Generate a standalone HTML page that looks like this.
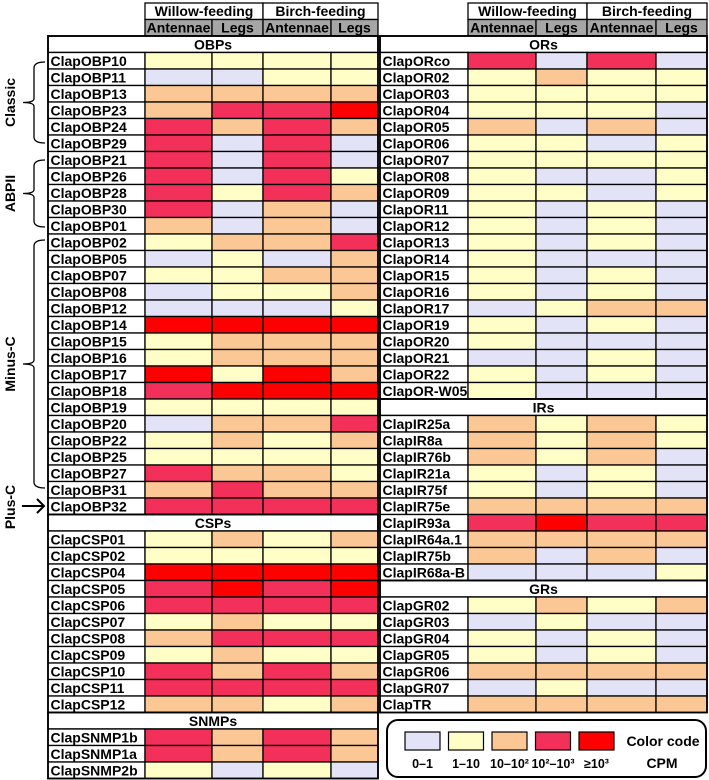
<!DOCTYPE html>
<html><head><meta charset="utf-8">
<style>
html,body{margin:0;padding:0;background:#fff;}
svg{display:block;font-family:"Liberation Sans",Arial,sans-serif;font-weight:bold;}
</style></head>
<body>
<svg id="chart" width="709" height="780" viewBox="0 0 709 780"></svg>
<script>
// level codes: 0 = 0-1, 1 = 1-10, 2 = 10-10^2, 3 = 10^2-10^3, 4 = >=10^3
const groups = ["Willow-feeding","Birch-feeding"];
const tissues = ["Antennae","Legs","Antennae","Legs"];
const levelColors = ["#e3e3f7","#fffec6","#fbc794","#f2305a","#fe0000"];
const levelLabels = ["0\u20131","1\u201310","10\u201310\u00b2","10\u00b2\u201310\u00b3","\u226510\u00b3"];

const obpNames = ["ClapOBP10","ClapOBP11","ClapOBP13","ClapOBP23","ClapOBP24","ClapOBP29","ClapOBP21","ClapOBP26","ClapOBP28","ClapOBP30","ClapOBP01","ClapOBP02","ClapOBP05","ClapOBP07","ClapOBP08","ClapOBP12","ClapOBP14","ClapOBP15","ClapOBP16","ClapOBP17","ClapOBP18","ClapOBP19","ClapOBP20","ClapOBP22","ClapOBP25","ClapOBP27","ClapOBP31","ClapOBP32"];
const obpLevels = [[1,1,1,1],[0,0,1,1],[2,2,2,2],[2,3,3,4],[3,2,3,2],[3,0,3,0],[3,0,3,0],[3,0,3,1],[3,1,3,2],[3,0,2,0],[2,0,2,0],[1,2,2,3],[0,1,0,2],[1,1,2,2],[0,1,1,2],[0,0,0,1],[4,4,4,4],[1,2,2,2],[1,2,2,2],[4,1,4,2],[3,4,4,4],[1,1,1,1],[0,2,2,3],[1,2,1,2],[1,1,1,1],[3,2,2,1],[2,3,2,2],[3,3,3,3]];
const cspNames = ["ClapCSP01","ClapCSP02","ClapCSP04","ClapCSP05","ClapCSP06","ClapCSP07","ClapCSP08","ClapCSP09","ClapCSP10","ClapCSP11","ClapCSP12"];
const cspLevels = [[1,2,1,2],[1,1,1,1],[4,4,4,4],[3,4,3,4],[3,3,3,3],[1,2,1,1],[2,3,3,3],[1,2,1,1],[3,2,3,2],[3,3,3,3],[2,2,1,2]];
const snmpNames = ["ClapSNMP1b","ClapSNMP1a","ClapSNMP2b"];
const snmpLevels = [[3,2,3,2],[3,2,3,2],[1,0,1,0]];
const orNames = ["ClapORco","ClapOR02","ClapOR03","ClapOR04","ClapOR05","ClapOR06","ClapOR07","ClapOR08","ClapOR09","ClapOR11","ClapOR12","ClapOR13","ClapOR14","ClapOR15","ClapOR16","ClapOR17","ClapOR19","ClapOR20","ClapOR21","ClapOR22","ClapOR-W05"];
const orLevels = [[3,0,3,0],[1,2,1,1],[1,1,1,1],[1,1,1,0],[2,0,2,0],[1,1,0,1],[1,1,1,1],[1,0,0,1],[1,1,0,1],[1,0,1,0],[1,0,1,0],[1,0,1,0],[1,0,0,0],[1,0,1,0],[1,0,1,0],[0,1,2,2],[1,0,1,0],[1,0,0,0],[0,0,1,0],[1,0,1,0],[1,0,0,0]];
const irNames = ["ClapIR25a","ClapIR8a","ClapIR76b","ClapIR21a","ClapIR75f","ClapIR75e","ClapIR93a","ClapIR64a.1","ClapIR75b","ClapIR68a-B"];
const irLevels = [[2,1,2,1],[2,1,2,1],[2,1,2,0],[1,0,1,0],[1,0,1,0],[2,2,2,2],[3,4,3,3],[2,2,2,2],[2,0,2,0],[0,0,0,1]];
const grNames = ["ClapGR02","ClapGR03","ClapGR04","ClapGR05","ClapGR06","ClapGR07","ClapTR"];
const grLevels = [[1,2,1,2],[0,1,0,0],[1,0,1,0],[1,0,1,0],[2,2,2,2],[0,1,0,0],[2,2,2,2]];

const svg = document.getElementById('chart');
const NS = "http://www.w3.org/2000/svg";
function mk(tag, attrs, parent){
  const e = document.createElementNS(NS, tag);
  for (const k in attrs) e.setAttribute(k, attrs[k]);
  (parent||svg).appendChild(e);
  return e;
}
const RH = 16.5, Y0 = 36, FS = 14;
const leftCols = [48,145,212,263,331,378];
const rightCols = [380,468,536,587,656,707];

function header(cols){
  for (let g=0; g<2; g++){
    const x0 = cols[1+g*2], x1 = cols[3+g*2];
    const r = mk('rect',{x:x0,y:3,width:x1-x0,height:16.5,fill:'#fff',stroke:'#000','stroke-width':1.3});
    
    
    const t = mk('text',{x:(x0+x1)/2,y:16,'text-anchor':'middle','font-size':FS});
    t.textContent = groups[g];
    
    
  }
  for (let c=0;c<4;c++){
    const x0=cols[1+c], x1=cols[2+c];
    const r = mk('rect',{x:x0,y:19.5,width:x1-x0,height:16.5,fill:'#a6a6a6',stroke:'#000','stroke-width':1.3});
    
    
    const t = mk('text',{x:(x0+x1)/2,y:32.5,'text-anchor':'middle','font-size':FS});
    t.textContent = tissues[c];
    
    
  }
}
function section(cols, title, names, levels, rowStart){
  let y = Y0 + rowStart*RH;
  const r = mk('rect',{x:cols[0],y:y,width:cols[5]-cols[0],height:RH,fill:'#fff',stroke:'#000','stroke-width':1.5});
  
  
  const t = mk('text',{x:(cols[0]+cols[5])/2,y:y+13.5,'text-anchor':'middle','font-size':FS});
  t.textContent = title;
  
  
  for (let i=0;i<names.length;i++){
    const yy = y + (i+1)*RH;
    const nr = mk('rect',{x:cols[0],y:yy,width:cols[1]-cols[0],height:RH,fill:'#fff',stroke:'#000','stroke-width':1.3});
    
    
    const nt = mk('text',{x:cols[0]+2.5,y:yy+13.5,'font-size':FS});
    nt.textContent = names[i];
    
    
    for (let c=0;c<4;c++){
      const cell = mk('rect',{x:cols[1+c],y:yy,width:cols[2+c]-cols[1+c],height:RH,fill:levelColors[levels[i][c]],stroke:'#000','stroke-width':1.3});
      
      
    }
  }
  const n = names.length+1;
  const ob = mk('rect',{x:cols[0],y:y,width:cols[5]-cols[0],height:n*RH,fill:'none',stroke:'#000','stroke-width':1.8});
  
  
  return rowStart + n;
}
header(leftCols);
header(rightCols);
let r = section(leftCols,'OBPs',obpNames,obpLevels,0);
r = section(leftCols,'CSPs',cspNames,cspLevels,r);
section(leftCols,'SNMPs',snmpNames,snmpLevels,r);
r = section(rightCols,'ORs',orNames,orLevels,0);
r = section(rightCols,'IRs',irNames,irLevels,r);
section(rightCols,'GRs',grNames,grLevels,r);

function bracket(y0,y1,label){
  const ym=(y0+y1)/2;
  const p = mk('path',{d:`M45 ${y0} Q34 ${y0} 34 ${y0+6} L34 ${ym-4} Q34 ${ym} 23 ${ym} Q34 ${ym} 34 ${ym+4} L34 ${y1-6} Q34 ${y1} 45 ${y1}`,fill:'none',stroke:'#000','stroke-width':1.3});
  
  
  const t = mk('text',{x:0,y:0,'text-anchor':'middle','font-size':FS,transform:`translate(15 ${ym}) rotate(-90)`});
  t.textContent = label;
  
  
}
bracket(62,143,'Classic');
bracket(160,227,'ABPII');
bracket(240,488,'Minus-C');
const pc = mk('text',{x:0,y:0,'text-anchor':'middle','font-size':FS,transform:'translate(15 507) rotate(-90)'});
pc.textContent='Plus-C';


const ar = mk('path',{d:'M22 506 L44 506 M37 499 L44 506 L37 513',fill:'none',stroke:'#000','stroke-width':2});



const lg = mk('rect',{x:387,y:720,width:319,height:57,rx:11,fill:'#fff',stroke:'#000','stroke-width':2});


for (let i=0;i<5;i++){
  const x = 405 + i*43.5;
  const s = mk('rect',{x:x,y:732,width:35,height:18,fill:levelColors[i],stroke:'#000','stroke-width':1.2});
  
  
  const t = mk('text',{x:x+17.5,y:768,'text-anchor':'middle','font-size':12.5});
  t.textContent = levelLabels[i];
  
  
}
const cc = mk('text',{x:663,y:746,'text-anchor':'middle','font-size':FS});
cc.textContent='Color code';


const cpm = mk('text',{x:662,y:768,'text-anchor':'middle','font-size':FS});
cpm.textContent='CPM';


</script>
</body></html>
